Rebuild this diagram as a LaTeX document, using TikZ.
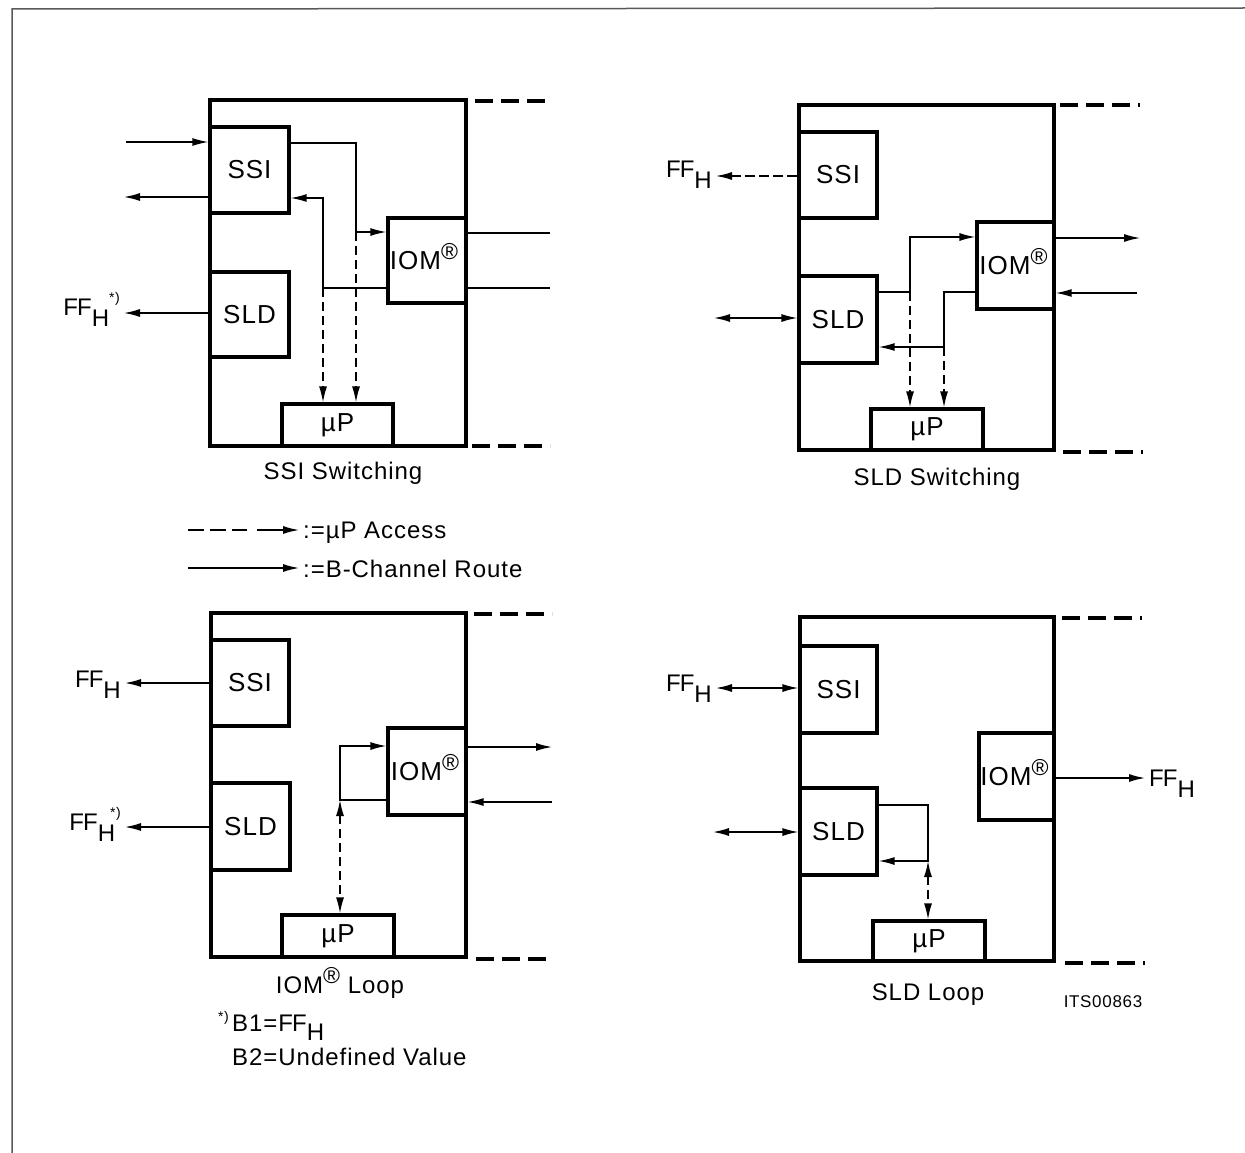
\documentclass[tikz,border=0pt]{standalone}
\usepackage{fontspec}
\setmainfont{Liberation Sans}[LetterSpace=4]
\usetikzlibrary{arrows.meta}
\newcommand\regR{\raisebox{10pt}[0pt][0pt]{\fontsize{23}{23}\selectfont ®}}
\newcommand\ffh{F\kern-1pt F\raisebox{-11pt}{H}}
\newcommand\astp{\raisebox{13pt}{\fontsize{14}{14}\selectfont *)}}
\tikzset{
 blk/.style={draw, line width=3.2pt, inner sep=0pt, font=\fontsize{26}{26}\selectfont},
 obox/.style={draw, line width=3.4pt, inner sep=0pt},
 ln/.style={line width=1.4pt},
 arr/.style={ln, -{Latex[length=16pt,width=8pt]}},
 barr/.style={ln, {Latex[length=16pt,width=8pt]}-{Latex[length=16pt,width=8pt]}},
 darr/.style={arr, dash pattern=on 9pt off 5pt},
 dbarr/.style={barr, dash pattern=on 9pt off 5pt},
 odash/.style={line width=3.4pt, dash pattern=on 18pt off 8pt},
 captxt/.style={font=\fontsize{24}{24}\selectfont, inner sep=0pt},
 lbl/.style={font=\fontsize{24}{24}\selectfont, inner sep=0pt, anchor=base west},
 lble/.style={font=\fontsize{24}{24}\selectfont, inner sep=0pt, anchor=base east},
}
\begin{document}
\begin{tikzpicture}[x=1pt,y=-1pt]
\useasboundingbox (0,0) rectangle (1245,1153);
% frame
\coordinate (fr1) at (12,1153); \coordinate (fr2) at (12,9); \coordinate (fr3) at (1245,8);
\draw[black!65, line width=1.5pt] (fr1) -- (fr2) -- (fr3);

% ===== Q1: SSI Switching =====
\node[obox, minimum width=256pt, minimum height=346pt] (q1box) at (338,273) {};
\node[blk, minimum width=79pt, minimum height=86pt] (q1ssi) at (249.5,170) {SSI};
\node[blk, minimum width=79pt, minimum height=85pt] (q1sld) at (249.5,314.5) {SLD};
\node[blk, minimum width=78pt, minimum height=85pt] (q1iom) at (427,260.5) {\hspace*{-6pt}IOM\regR};
\node[blk, minimum width=111pt, minimum height=42pt] (q1up) at (337.5,425) {µP};
\coordinate (q1in) at (126,142);
\coordinate (q1out) at (124,197);
\coordinate (q1ff) at (124,313);
\draw[arr] (q1in) -- (q1in -| q1ssi.west);
\draw[arr] (q1out -| q1ssi.west) -- (q1out);
\draw[arr] (q1ff -| q1sld.west) -- (q1ff);
\node[lble] (q1ffl) at (120,315) {\ffh\astp};
\coordinate (q1a) at (356,143); \coordinate (q1b) at (356,232);
\coordinate (q1c) at (323,288); \coordinate (q1d) at (323,198);
\draw[arr] (q1a -| q1ssi.east) -- (q1a) -- (q1b) -- (q1b -| q1iom.west);
\draw[darr] (q1b) -- (q1b |- q1up.north);
\draw[arr] (q1c -| q1iom.west) -- (q1c) -- (q1d) -- (q1d -| q1ssi.east);
\draw[darr] (q1c) -- (q1c |- q1up.north);
\coordinate (q1r1) at (550,233); \coordinate (q1r2) at (550,288);
\draw[ln] (q1r1 -| q1iom.east) -- (q1r1);
\draw[ln] (q1r2 -| q1iom.east) -- (q1r2);
\coordinate (q1t1) at (475,101); \coordinate (q1t2) at (550,101);
\coordinate (q1b1) at (472,446); \coordinate (q1b2) at (550,446);
\draw[odash] (q1t1) -- (q1t2);
\draw[odash] (q1b1) -- (q1b2);
\node[captxt] (q1cap) at (343,473) {SSI Switching};

% ===== Q2: SLD Switching =====
\node[obox, minimum width=255pt, minimum height=345pt] (q2box) at (926.5,277.5) {};
\node[blk, minimum width=78pt, minimum height=86pt] (q2ssi) at (838,175) {SSI};
\node[blk, minimum width=78pt, minimum height=87pt] (q2sld) at (838,319.5) {SLD};
\node[blk, minimum width=77pt, minimum height=87pt] (q2iom) at (1015.5,265.5) {\hspace*{-4pt}IOM\regR};
\node[blk, minimum width=112pt, minimum height=41pt] (q2up) at (927,429.5) {µP};
\coordinate (q2ff) at (716,176);
\draw[arr, dash pattern=on 10pt off 4pt] (q2ff -| q2ssi.west) -- (q2ff);
\node[lble] (q2ffl) at (712,178) {\ffh};
\coordinate (q2sl) at (714,318);
\draw[barr] (q2sl) -- (q2sl -| q2sld.west);
\coordinate (q2a) at (910,292); \coordinate (q2b) at (910,237);
\coordinate (q2c) at (944,292); \coordinate (q2d) at (944,347);
\draw[arr] (q2a -| q2sld.east) -- (q2a) -- (q2b) -- (q2b -| q2iom.west);
\draw[darr] (q2a) -- (q2a |- q2up.north);
\draw[arr] (q2c -| q2iom.west) -- (q2c) -- (q2d) -- (q2d -| q2sld.east);
\draw[darr] (q2d) -- (q2d |- q2up.north);
\coordinate (q2r1) at (1140,238); \coordinate (q2r2) at (1137,293);
\draw[arr] (q2r1 -| q2iom.east) -- (q2r1);
\draw[arr] (q2r2) -- (q2r2 -| q2iom.east);
\coordinate (q2t1) at (1060,105); \coordinate (q2t2) at (1140,105);
\coordinate (q2b1) at (1063,452); \coordinate (q2b2) at (1143,452);
\draw[odash] (q2t1) -- (q2t2);
\draw[odash] (q2b1) -- (q2b2);
\node[captxt] (q2cap) at (937,479) {SLD Switching};

% ===== Legend =====
\coordinate (lg1a) at (188,530); \coordinate (lg1b) at (247,530);
\coordinate (lg1c) at (257,530); \coordinate (lg1d) at (299,530);
\draw[ln, dash pattern=on 16pt off 6pt] (lg1a) -- (lg1b);
\draw[arr] (lg1c) -- (lg1d);
\node[lbl] (lg1t) at (303,538) {:=µP Access};
\coordinate (lg2a) at (188,568); \coordinate (lg2b) at (299,568);
\draw[arr] (lg2a) -- (lg2b);
\node[lbl] (lg2t) at (303,577) {:=B-Channel Route};

% ===== Q3: IOM Loop =====
\node[obox, minimum width=255pt, minimum height=344pt] (q3box) at (338.5,785) {};
\node[blk, minimum width=78pt, minimum height=86pt] (q3ssi) at (250,683) {SSI};
\node[blk, minimum width=79pt, minimum height=87pt] (q3sld) at (250.5,826.5) {SLD};
\node[blk, minimum width=78pt, minimum height=87pt] (q3iom) at (427,771.5) {\hspace*{-4pt}IOM\regR};
\node[blk, minimum width=112pt, minimum height=42pt] (q3up) at (338,936) {µP};
\coordinate (q3ff1) at (125,683);
\coordinate (q3ff2) at (125,827);
\draw[arr] (q3ff1 -| q3ssi.west) -- (q3ff1);
\draw[arr] (q3ff2 -| q3sld.west) -- (q3ff2);
\node[lble] (q3ffl1) at (121,687) {\ffh};
\node[lble] (q3ffl2) at (121,830) {\ffh\hspace*{-5pt}\astp};
\coordinate (q3a) at (340,800); \coordinate (q3b) at (340,746);
\draw[arr] (q3a -| q3iom.west) -- (q3a) -- (q3b) -- (q3b -| q3iom.west);
\draw[dbarr] (q3a) -- (q3a |- q3up.north);
\coordinate (q3r1) at (552,747); \coordinate (q3r2) at (552,802);
\draw[arr] (q3r1 -| q3iom.east) -- (q3r1);
\draw[arr] (q3r2) -- (q3r2 -| q3iom.east);
\coordinate (q3t1) at (474,614); \coordinate (q3t2) at (552,614);
\coordinate (q3b1) at (476,959); \coordinate (q3b2) at (552,959);
\draw[odash] (q3t1) -- (q3t2);
\draw[odash] (q3b1) -- (q3b2);
\node[captxt] (q3cap) at (340,988) {IOM\regR\ Loop};
\node[font=\fontsize{14}{14}\selectfont, inner sep=0pt, anchor=base east] (fnast) at (229,1021) {*)};
\node[lbl] (fn1) at (232,1031) {B1=F\kern-1pt F\raisebox{-9pt}{H}};
\node[lbl] (fn2) at (232,1065) {B2=Undefined Value};

% ===== Q4: SLD Loop =====
\node[obox, minimum width=254pt, minimum height=344pt] (q4box) at (927,789) {};
\node[blk, minimum width=77pt, minimum height=87pt] (q4ssi) at (838.5,689.5) {SSI};
\node[blk, minimum width=77pt, minimum height=87pt] (q4sld) at (838.5,831.5) {SLD};
\node[blk, minimum width=75pt, minimum height=87pt] (q4iom) at (1016.5,776.5) {\hspace*{-4pt}IOM\regR};
\node[blk, minimum width=112pt, minimum height=40pt] (q4up) at (929,941) {µP};
\coordinate (q4ff) at (716,688);
\draw[barr] (q4ff) -- (q4ff -| q4ssi.west);
\node[lble] (q4ffl) at (712,691) {\ffh};
\coordinate (q4sl) at (713,832);
\draw[barr] (q4sl) -- (q4sl -| q4sld.west);
\coordinate (q4a) at (928,805); \coordinate (q4b) at (928,861);
\draw[arr] (q4a -| q4sld.east) -- (q4a) -- (q4b) -- (q4b -| q4sld.east);
\draw[dbarr] (q4b) -- (q4b |- q4up.north);
\coordinate (q4r) at (1145,778);
\draw[arr] (q4r -| q4iom.east) -- (q4r);
\node[lbl] (q4ffr) at (1149,786) {\ffh};
\coordinate (q4t1) at (1062,618); \coordinate (q4t2) at (1142,618);
\coordinate (q4b1) at (1065,963); \coordinate (q4b2) at (1145,963);
\draw[odash] (q4t1) -- (q4t2);
\draw[odash] (q4b1) -- (q4b2);
\node[captxt] (q4cap) at (928,995) {SLD Loop};
\node[font=\fontsize{17}{17}\selectfont, inner sep=0pt] (code) at (1103,1002) {ITS00863};
\end{tikzpicture}
\end{document}
